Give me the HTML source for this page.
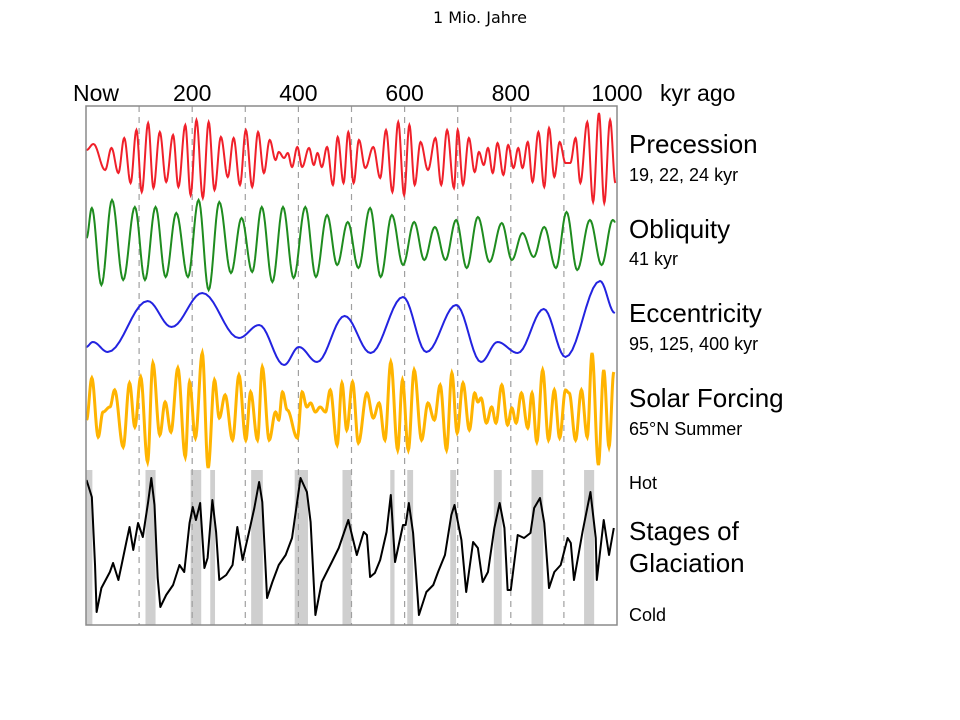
<!DOCTYPE html>
<html><head><meta charset="utf-8">
<style>
body{margin:0;background:#fff;width:960px;height:720px;overflow:hidden;font-family:"Liberation Sans",Arial,sans-serif;}
svg{display:block}
</style></head>
<body>
<svg id="chart" width="960" height="720" viewBox="0 0 960 720" xmlns="http://www.w3.org/2000/svg">
<text x="480" y="23" text-anchor="middle" font-family="DejaVu Sans, sans-serif" font-size="16" fill="#000">1 Mio. Jahre</text>
<g id="bars"></g>
<g id="grid"></g>
<g id="series"></g>
<rect x="86" y="106" width="531" height="519" fill="none" stroke="#8a8a8a" stroke-width="1.5"/>
<g id="xticks" font-size="23" fill="#000"></g>
<text x="660" y="101" font-size="23">kyr ago</text>
<g fill="#000">
<text x="629" y="153" font-size="26">Precession</text>
<text x="629" y="181" font-size="18">19, 22, 24 kyr</text>
<text x="629" y="238" font-size="26">Obliquity</text>
<text x="629" y="265" font-size="18">41 kyr</text>
<text x="629" y="322" font-size="26">Eccentricity</text>
<text x="629" y="350" font-size="18">95, 125, 400 kyr</text>
<text x="629" y="407" font-size="26">Solar Forcing</text>
<text x="629" y="435" font-size="18">65°N Summer</text>
<text x="629" y="489" font-size="18">Hot</text>
<text x="629" y="540" font-size="26">Stages of</text>
<text x="629" y="572" font-size="26">Glaciation</text>
<text x="629" y="621" font-size="18">Cold</text>
</g>
</svg>
<script>
const tickLabels=["Now","200","400","600","800","1000"];
const tickValues=[0,200,400,600,800,1000];
const gridValues=[100,200,300,400,500,600,700,800,900];
const precT=[1,14,36,48,61,72,84,95,105,117,127,139,151,164,174,187,197,208,220,231,242,254,267,278,290,301,313,324,335,346,357,363,373,380,388,398,407,420,429,436,444,454,465,474,485,494,504,514,526,541,554,565,577,588,599,609,619,630,644,658,669,680,693,700,710,721,732,740,749,757,766,775,786,795,805,814,822,832,841,852,863,872,882,892,903,912,922,931,944,955,966,976,987,997];
const precV=[8,14,-12,10,-15,20,-25,28,-34,35,-30,26,-24,23,-29,33,-37,38,-40,36,-32,21,-19,20,-27,28,-29,26,-15,18,-2,6,0,5,-9,11,-9,10,-7,5,-9,11,-27,21,-25,26,-25,18,-10,11,-20,28,-34,36,-37,33,-27,16,-12,20,-27,28,-30,28,-27,20,-14,6,-7,10,-15,15,-17,13,-10,10,-10,16,-24,26,-29,30,-19,16,-5,-5,20,-25,36,-44,45,-45,38,-25];
const oblT=[1,11,29,49,70,92,111,131,150,170,192,212,231,251,273,293,313,331,351,371,391,413,433,454,473,493,513,535,555,576,597,618,637,657,677,697,717,738,760,783,802,822,843,863,885,905,925,949,971,992,997];
const oblV=[7,37,-40,45,-35,38,-35,38,-32,32,-32,45,-45,43,-28,27,-27,38,-37,38,-33,38,-32,30,-20,23,-23,37,-32,30,-20,23,-15,18,-15,25,-23,28,-17,22,-15,12,-12,18,-23,33,-25,25,-20,25,23];
const eccT=[0,13,41,116,161,219,288,326,373,401,435,487,536,597,641,697,744,775,813,862,903,968,996];
const eccV=[-17,-12,-22,29,3,37,-8,5,-35,-17,-32,14,-23,33,-22,25,-32,-12,-23,21,-27,49,17];
const solT=[1,11,23,32,45,54,70,82,92,103,116,126,139,149,160,173,187,195,206,219,230,242,251,262,276,288,301,310,323,332,345,357,363,370,379,398,407,416,423,432,441,451,460,473,482,491,502,513,529,541,552,563,574,587,596,607,618,632,644,656,667,679,689,699,710,722,732,738,744,754,764,772,783,794,802,810,820,832,840,849,860,871,882,892,903,910,922,933,944,953,965,975,985,994];
const solV=[-5,37,-22,3,8,25,-32,32,-12,38,-47,52,-20,13,-17,47,-42,33,-23,62,-53,35,-3,20,-25,40,-25,23,-25,48,-25,3,-5,23,5,-23,23,8,12,3,8,3,25,-30,32,-15,33,-28,22,-3,12,-25,53,-35,35,-35,45,-25,12,-5,30,-35,42,-18,32,-15,22,13,17,-8,8,-8,30,-10,7,-8,22,-13,22,-27,45,-25,25,-23,25,22,-25,25,-22,62,-50,45,-32,43];
const glaT=[1,11,17,20,29,45,51,61,67,76,82,89,98,107,117,123,129,135,140,151,164,176,185,195,201,207,215,223,229,238,245,251,264,276,285,295,307,317,326,332,341,351,363,376,388,404,416,423,432,444,463,476,494,510,523,529,535,544,554,566,574,582,597,602,608,616,627,641,654,663,676,688,694,707,716,729,738,747,757,769,779,788,794,800,813,825,837,844,855,863,872,882,894,907,913,919,935,950,960,962,975,985,994];
const glaV=[65,48,-20,-67,-43,-27,-18,-35,-20,3,18,-5,22,8,43,67,40,-33,-62,-50,-40,-20,-27,22,38,25,42,-23,-13,45,13,-35,-30,-20,18,-15,13,37,63,43,-53,-37,-20,-10,7,67,53,23,-70,-37,-17,-3,25,-10,13,10,-32,-28,-15,13,50,-17,20,20,42,12,-70,-47,-40,-27,-10,30,40,5,-47,3,-3,-37,-27,17,42,17,-45,-45,10,7,12,37,47,22,-43,-27,-20,7,2,-35,13,53,7,-35,25,-10,17];
const glacialStart=[1,112,197,234,311,393,483,573,605,686,768,839,938];
const glacialEnd=[12,131,217,243,333,418,500,581,616,697,783,861,957];

const NS='http://www.w3.org/2000/svg';
const X0=86,XW=531,YT=106,YB=625;
function xs(k){return X0+k/1000*XW;}
function mk(tag,attrs,parent){const e=document.createElementNS(NS,tag);for(const a in attrs)e.setAttribute(a,attrs[a]);parent.appendChild(e);return e;}

const bars=document.getElementById('bars');
glacialStart.forEach((s,i)=>{
  const r=mk('rect',{x:xs(s),y:470,width:xs(glacialEnd[i])-xs(s),height:YB-470,fill:'#cfcfcf'},bars);
  
  
});
const grid=document.getElementById('grid');
gridValues.forEach(g=>{
  const l=mk('line',{x1:xs(g),x2:xs(g),y1:YT,y2:YB,stroke:'#a0a0a0','stroke-width':1.2,'stroke-dasharray':'6,5'},grid);
  
  
});
const xt=document.getElementById('xticks');
tickValues.forEach((v,i)=>{
  const t=mk('text',{x:xs(v)+(i===0?10:0),y:101,'text-anchor':'middle'},xt);
  t.textContent=tickLabels[i];
  
  
});

function cosPath(T,V,yc,scale){
  let d='';
  for(let i=0;i<T.length-1;i++){
    const x0=xs(T[i]),x1=xs(T[i+1]),y0=yc-V[i]*scale,y1=yc-V[i+1]*scale;
    const n=10;
    for(let j=(i===0?0:1);j<=n;j++){
      const f=j/n,m=(1-Math.cos(Math.PI*f))/2;
      const x=x0+(x1-x0)*f,y=y0+(y1-y0)*m;
      d+=(d?'L':'M')+x.toFixed(2)+','+y.toFixed(2);
    }
  }
  return d;
}
function linePath(T,V,yc,scale){
  return T.map((t,i)=>(i?'L':'M')+xs(t).toFixed(2)+','+(yc-V[i]*scale).toFixed(2)).join('');
}
const sg=document.getElementById('series');
const p1=mk('path',{d:cosPath(precT,precV,158,1),fill:'none',stroke:'#f0202a','stroke-width':2},sg);


const p2=mk('path',{d:cosPath(oblT,oblV,245,1),fill:'none',stroke:'#1f8c1f','stroke-width':2},sg);


const p3=mk('path',{d:cosPath(eccT,eccV,330,1),fill:'none',stroke:'#2323e0','stroke-width':2},sg);


const p4=mk('path',{d:cosPath(solT,solV,415,1),fill:'none',stroke:'#ffb400','stroke-width':3},sg);


const p5=mk('path',{d:linePath(glaT,glaV,545,1),fill:'none',stroke:'#000','stroke-width':2,'stroke-linejoin':'round'},sg);


</script>
</body></html>
